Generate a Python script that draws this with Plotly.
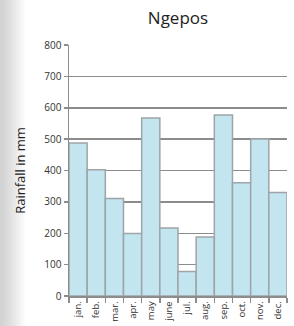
import plotly.graph_objects as go

months = ["jan.", "feb.", "mar.", "apr.", "may", "june", "jul.", "aug.", "sep.", "oct.", "nov.", "dec."]
rainfall = [488, 402, 311, 199, 567, 217, 78, 188, 577, 361, 500, 330]
y_ticks = [0, 100, 200, 300, 400, 500, 600, 700, 800]

W, H = 294, 326
L, R, T, B = 69, 7, 45, 30
pw, ph = W - L - R, H - T - B

fig = go.Figure(go.Bar(
    x=months, y=rainfall,
    marker=dict(color="#c2e5f0", line=dict(color="#9ea4a8", width=1.5)),
    hoverinfo="skip",
))

shapes = []
n = 26
for i in range(n):
    g = int(0xd2 + (0xff - 0xd2) * (i / (n - 1)) ** 1.2)
    c = f"rgb({g},{g},{g})"
    shapes.append(dict(type="rect", xref="paper", yref="paper",
                       x0=(i - L) / pw, x1=(i + 1 - L) / pw,
                       y0=-B / ph, y1=1 + T / ph,
                       fillcolor=c, line=dict(width=0), layer="below"))

fig.update_layout(
    width=W, height=H,
    margin=dict(l=L, r=R, t=T, b=B, autoexpand=False),
    paper_bgcolor="white", plot_bgcolor="white",
    bargap=0,
    showlegend=False,
    shapes=shapes,
    font=dict(family="Open Sans, DejaVu Sans, sans-serif", color="#333"),
    title=dict(text="Ngepos", x=(L + pw / 2) / W, xanchor="center",
               y=1 - 18 / H, yanchor="middle",
               font=dict(size=17, color="#222")),
    xaxis=dict(
        type="category", tickangle=-90, tickson="boundaries",
        ticks="outside", ticklen=5, tickwidth=1.5, tickcolor="#8c8c8c",
        showline=True, linecolor="#8c8c8c", linewidth=1.5,
        showgrid=False, tickfont=dict(size=9.5, color="#333"),
        range=[-0.5, 11.5],
    ),
    yaxis=dict(
        range=[0, 800], tickvals=y_ticks, ticks="outside", ticklen=4,
        tickwidth=1.5, tickcolor="#8c8c8c",
        showline=True, linecolor="#8c8c8c", linewidth=1.5,
        showgrid=True, gridcolor="#8c8c8c", gridwidth=1.5,
        zeroline=False, tickfont=dict(size=10, color="#333"),
        title=dict(text="Rainfall in mm", font=dict(size=13, color="#222"), standoff=16),
    ),
)

fig.write_html(
    "out.html",
    config={"displayModeBar": False, "staticPlot": True},
    post_script="document.body.style.margin='0';document.body.style.padding='0';",
)
